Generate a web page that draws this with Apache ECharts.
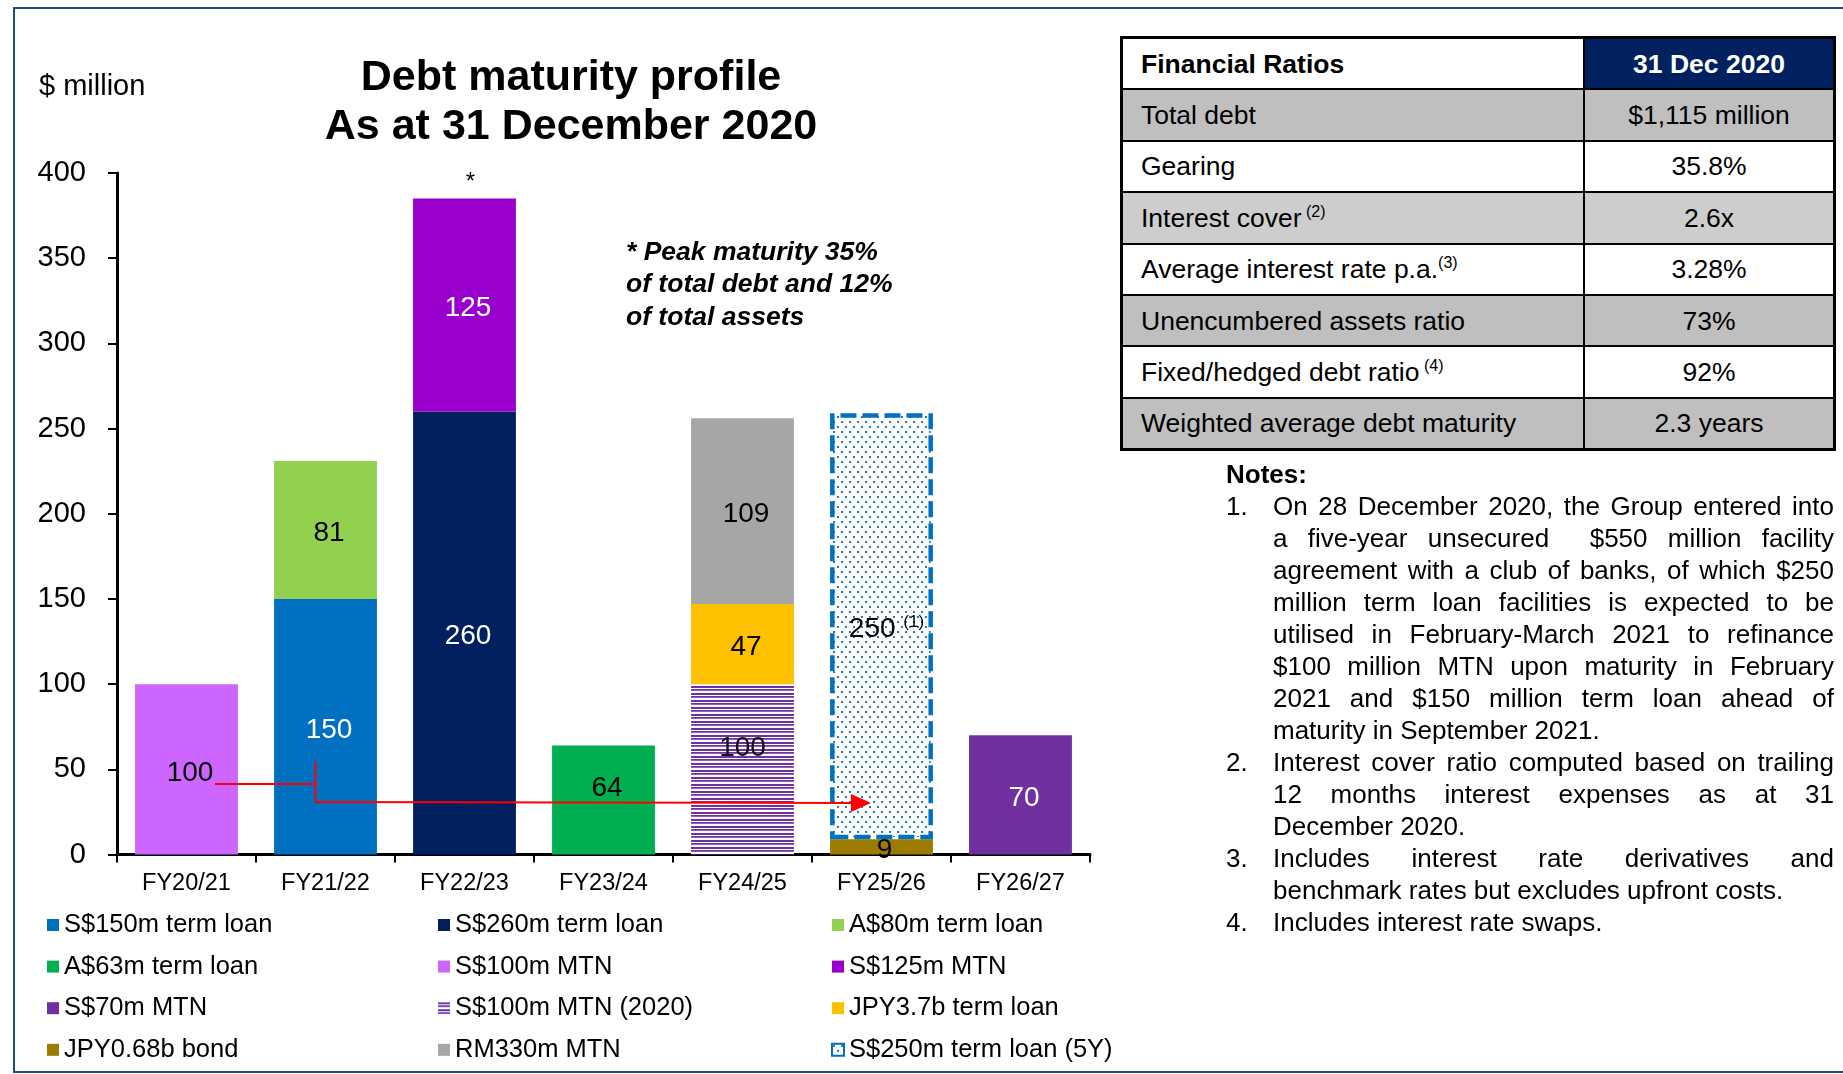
<!DOCTYPE html>
<html>
<head>
<meta charset="utf-8">
<script src="https://cdn.jsdelivr.net/npm/echarts@6/dist/echarts.min.js"></script>
<style>
  html, body { margin:0; padding:0; background:#fff; }
  body { width:1843px; height:1074px; position:relative; overflow:hidden; font-family:'Liberation Sans', Arial, sans-serif; color:#000; }
  #frame { position:absolute; left:13px; top:7px; width:1840px; height:1062px; border:2px solid #1F4E79; border-right:none; box-sizing:content-box; }
  #chart { position:absolute; left:0; top:0; width:1843px; height:1074px; }
  #ratios { position:absolute; left:1120px; top:36px; width:716px; border-collapse:collapse; font-size:26.5px; border:3px solid #000; }
  #ratios td { border:2px solid #000; height:49.4px; padding:0 18px; line-height:26px; }
  #ratios td.v { text-align:center; width:212px; }
  #ratios sup { font-size:16px; vertical-align:top; position:relative; top:-6px; }
  #notes { position:absolute; left:1226px; top:458px; width:608px; font-size:26px; line-height:32px; }
  #notes .hd { font-weight:bold; }
  #notes .item { position:relative; padding-left:47px; }
  #notes .num { position:absolute; left:0; top:0; }
  #notes .ln { white-space:nowrap; }
  #notes .j { text-align:justify; text-align-last:justify; white-space:normal; }
</style>
</head>
<body>
<div id="frame"></div>
<div id="chart"></div>
<table id="ratios"></table>
<div id="notes"></div>
<script>
// ---------- data ----------
const categories = ['FY20/21','FY21/22','FY22/23','FY23/24','FY24/25','FY25/26','FY26/27'];
const termLoanS150   = [null, 150, null, null, null, null, null];
const termLoanS260   = [null, null, 260, null, null, null, null];
const termLoanA80    = [null, 81, null, null, null, null, null];
const termLoanA63    = [null, null, null, 64, null, null, null];
const mtnS100        = [100, null, null, null, null, null, null];
const mtnS125        = [null, null, 125, null, null, null, null];
const mtnS70         = [null, null, null, null, null, null, 70];
const mtnS100y2020   = [null, null, null, null, 100, null, null];
const termLoanJPY37  = [null, null, null, null, 47, null, null];
const bondJPY068     = [null, null, null, null, null, 9, null];
const mtnRM330       = [null, null, null, null, 109, null, null];
const termLoanS250   = [null, null, null, null, null, 250, null];
const yTicks = { min: 0, max: 400, interval: 50 };

const ratioLabels = ['Total debt','Gearing','Interest cover','Average interest rate p.a.','Unencumbered assets ratio','Fixed/hedged debt ratio','Weighted average debt maturity'];
const ratioSups   = ['', '', ' (2)', '(3)', '', ' (4)', ''];
const ratioValues = ['$1,115 million','35.8%','2.6x','3.28%','73%','92%','2.3 years'];

const noteLines = [
  ['On 28 December 2020, the Group entered into','a five-year unsecured \u00a0$550 million facility','agreement with a club of banks, of which $250','million term loan facilities is expected to be','utilised in February-March 2021 to refinance','$100 million MTN upon maturity in February','2021 and $150 million term loan ahead of','maturity in September 2021.'],
  ['Interest cover ratio computed based on trailing','12 months interest expenses as at 31','December 2020.'],
  ['Includes interest rate derivatives and','benchmark rates but excludes upfront costs.'],
  ['Includes interest rate swaps.']
];
// arrow annotation: [category position (index + fraction), value]
const arrowFrom = [0.205, 41.4];
const arrowBend = [0.928, 41.4];
const arrowBendTop = [0.928, 54.5];
const arrowBendLow = [0.928, 30.8];
const arrowTip = [4.924, 30.2];

// ---------- table & notes ----------
(function(){
  const t = document.getElementById('ratios');
  let h = '<tr style="background:#fff"><td style="font-weight:bold">Financial Ratios</td><td class="v" style="background:#002060;color:#fff;font-weight:bold">31 Dec 2020</td></tr>';
  const bgs = ['#BFBFBF','#FFFFFF','#CDCDCD','#FFFFFF','#BFBFBF','#FFFFFF','#BFBFBF'];
  ratioLabels.forEach((l,i)=>{
    const s = ratioSups[i] ? '<sup>'+ratioSups[i].replace(' ','&nbsp;')+'</sup>' : '';
    h += '<tr style="background:'+bgs[i]+'"><td>'+l+s+'</td><td class="v">'+ratioValues[i]+'</td></tr>';
  });
  t.innerHTML = h;
  const n = document.getElementById('notes');
  let nh = '<div class="hd">Notes:</div>';
  noteLines.forEach((lines,k)=>{
    nh += '<div class="item"><span class="num">'+(k+1)+'.</span>';
    lines.forEach((ln,j)=>{
      const last = j === lines.length-1;
      nh += '<div class="ln'+(last?'':' j')+'">'+ln+'</div>';
    });
    nh += '</div>';
  });
  n.innerHTML = nh;
})();

// ---------- patterns ----------
function stripePattern(){
  const c = document.createElement('canvas'); c.width = 8; c.height = 7;
  const g = c.getContext('2d');
  g.fillStyle = '#ffffff'; g.fillRect(0,0,8,7);
  g.fillStyle = '#7030A0'; g.fillRect(0,0,8,2);
  g.fillStyle = '#9060C0'; g.fillRect(0,4,8,1);
  g.fillStyle = '#7030A0'; g.fillRect(0,3,8,1);
  return c;
}
function dotPattern(){
  const c = document.createElement('canvas'); c.width = 8; c.height = 10;
  const g = c.getContext('2d');
  g.fillStyle = '#ffffff'; g.fillRect(0,0,8,10);
  g.fillStyle = '#1E7CC6';
  g.fillRect(1,1,2,2); g.fillRect(5,6,2,2);
  return c;
}

const FONT = "'Liberation Sans', Arial, sans-serif";
const chart = echarts.init(document.getElementById('chart'), null, {renderer:'canvas'});

function lbl(color, off){
  return { show:true, position:'inside', color, fontSize:28, fontFamily:FONT, offset: off || [3.5, 3.5] };
}
function bar(name, data, color, label, extra){
  const s = {
    name, type:'bar', stack:'total', data, barCategoryGap:'26%',
    itemStyle:{ color },
    label,
    emphasis:{ disabled:true }
  };
  return Object.assign(s, extra || {});
}

const series = [
  bar('S$150m term loan', termLoanS150, '#0070C0', lbl('#fff')),
  bar('S$260m term loan', termLoanS260, '#002060', lbl('#fff')),
  bar('A$80m term loan', termLoanA80, '#92D050', lbl('#000')),
  bar('A$63m term loan', termLoanA63, '#00B050', lbl('#000', [3.5, -11.5])),
  bar('S$100m MTN', mtnS100, '#CC66FF', lbl('#000')),
  bar('S$125m MTN', mtnS125, '#9900CC', lbl('#fff')),
  bar('S$70m MTN', mtnS70, '#7030A0', lbl('#fff')),
  bar('S$100m MTN (2020)', mtnS100y2020, {image: stripePattern(), repeat:'repeat'}, lbl('#111', [0, -21])),
  bar('JPY3.7b term loan', termLoanJPY37, '#FFC000', lbl('#000')),
  bar('JPY0.68b bond', bondJPY068, '#9C7C00', lbl('#000', [3, 3])),
  bar('RM330m MTN', mtnRM330, '#A6A6A6', lbl('#000')),
  bar('S$250m term loan (5Y)', termLoanS250, {image: dotPattern(), repeat:'repeat'}, {
      show:true, position:'inside', color:'#000', fontSize:28, fontFamily:FONT, offset:[5,3.5],
      formatter: p => '{a|' + p.value + '} {b|(1)}',
      rich:{ a:{fontSize:28, fontFamily:FONT, color:'#000'}, b:{fontSize:17, fontFamily:FONT, color:'#000', verticalAlign:'top', padding:[0,0,14,0]} } }, {
    itemStyle:{ color:{image: dotPattern(), repeat:'repeat'}, borderColor:'#0070C0', borderWidth:4.5, borderType:[16,6] }
  })
];

function legendCol(left, names){
  return {
    orient:'vertical', left, top:910, padding:0, itemGap:11.6, itemWidth:12, itemHeight:12, icon:'rect',
    selectedMode:false,
    textStyle:{ fontSize:25.5, fontFamily:FONT, color:'#000', lineHeight:30, padding:[0,0,0,0] },
    data: names.map(n => n === 'S$250m term loan (5Y)' ? {name:n, itemStyle:{borderWidth:2, borderType:'solid'}} : n)
  };
}

chart.setOption({
  animation:false,
  backgroundColor:'transparent',
  textStyle:{ fontFamily:FONT },
  title:{
    text:'Debt maturity profile\nAs at 31 December 2020',
    left:566, top:49, textAlign:'center',
    textStyle:{ fontSize:43, fontWeight:'bold', color:'#000', lineHeight:48.5, fontFamily:FONT }
  },
  grid:{ left:117, top:173, width:973, height:681.5, containLabel:false },
  xAxis:{
    type:'category', data:categories,
    axisLine:{ lineStyle:{ color:'#000', width:3 } },
    axisTick:{ show:true, length:8, lineStyle:{ color:'#000', width:2 } },
    axisLabel:{ color:'#000', fontSize:23.5, fontFamily:FONT, margin:17 }
  },
  yAxis:{
    type:'value', min:yTicks.min, max:yTicks.max, interval:yTicks.interval,
    splitLine:{ show:false },
    axisLine:{ show:true, lineStyle:{ color:'#000', width:3 } },
    axisTick:{ show:true, length:9, lineStyle:{ color:'#000', width:2 } },
    axisLabel:{ color:'#000', fontSize:29, fontFamily:FONT, margin:31 }
  },
  legend:[
    legendCol(47, ['S$150m term loan','A$63m term loan','S$70m MTN','JPY0.68b bond']),
    legendCol(438, ['S$260m term loan','S$100m MTN','S$100m MTN (2020)','RM330m MTN']),
    legendCol(831, ['A$80m term loan','S$125m MTN','JPY3.7b term loan','S$250m term loan (5Y)'])
  ],
  series
});

// ---------- annotations ----------
const c0 = chart.convertToPixel({xAxisIndex:0}, categories[0]);
const c1 = chart.convertToPixel({xAxisIndex:0}, categories[1]);
const cw = c1 - c0;
const P = pt => [c0 + pt[0]*cw, chart.convertToPixel({yAxisIndex:0}, pt[1])];
const a = P(arrowFrom), b = P(arrowBend), bt = P(arrowBendTop), bl = P(arrowBendLow), tip = P(arrowTip);
const red = '#FF0000';
const peakTop = chart.convertToPixel({yAxisIndex:0}, 385);
const peakX = c0 + 2*cw;

chart.setOption({
  graphic:[
    { type:'text', left:39, top:72, style:{ text:'$ million', fontSize:29, fontFamily:FONT, fill:'#000' } },
    { type:'text', x:peakX + 6, y:peakTop - 16, style:{ text:'*', fontSize:24, fontFamily:FONT, fill:'#000', align:'center', verticalAlign:'middle' } },
    { type:'text', left:626, top:236, style:{ text:'* Peak maturity 35%\nof total debt and 12%\nof total assets', fontSize:26.5, fontWeight:'bold', fontStyle:'italic', fontFamily:FONT, fill:'#000', lineHeight:32.5 } },
    { type:'polyline', z:100, shape:{ points:[a, b] }, style:{ stroke:red, lineWidth:2, fill:null } },
    { type:'polyline', z:100, shape:{ points:[bt, bl] }, style:{ stroke:red, lineWidth:2, fill:null } },
    { type:'polyline', z:100, shape:{ points:[bl, [tip[0]-16, tip[1]]] }, style:{ stroke:red, lineWidth:2, fill:null } },
    { type:'polygon', z:100, shape:{ points:[tip, [tip[0]-20, tip[1]-9], [tip[0]-20, tip[1]+9]] }, style:{ fill:red } }
  ]
});
</script>
</body>
</html>
